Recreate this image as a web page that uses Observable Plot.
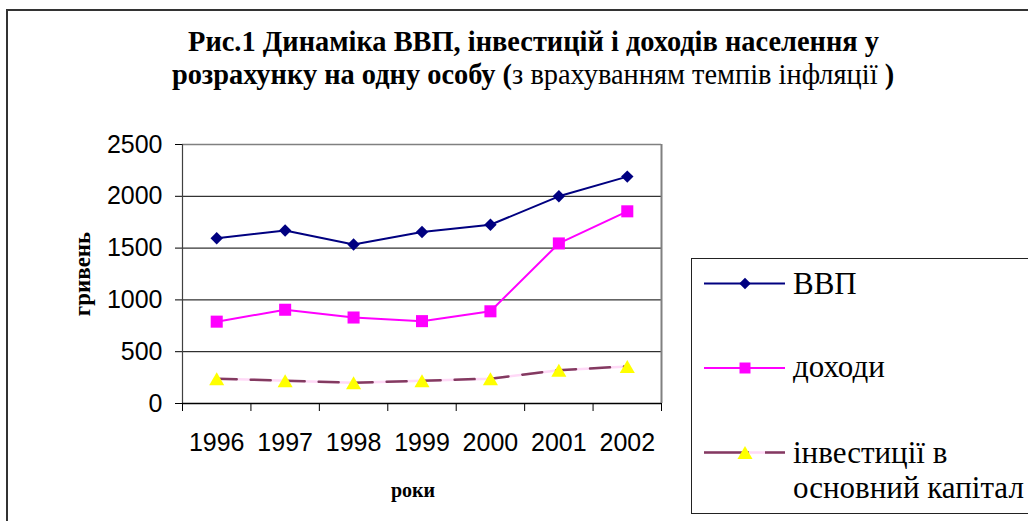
<!DOCTYPE html>
<html><head><meta charset="utf-8">
<script src="https://cdn.jsdelivr.net/npm/d3@7"></script>
<script src="https://cdn.jsdelivr.net/npm/@observablehq/plot@0.6"></script>
<style>
body{margin:0;background:#fff;}
#chart{position:relative;width:1028px;height:521px;overflow:hidden;background:#fff;}
#chart > *{position:absolute;}
.frame{left:6px;top:9px;width:1100px;height:600px;border:2px solid #333;box-sizing:border-box;}
.legend{left:691px;top:258px;width:400px;height:256px;border:1.5px solid #222;box-sizing:border-box;}
</style></head><body><div id="chart"></div>
<script>
const years = [1996, 1997, 1998, 1999, 2000, 2001, 2002];
const gdp = [1595, 1670, 1535, 1655, 1725, 2000, 2190];
const income = [790, 905, 830, 795, 890, 1545, 1855];
const invest = [240, 220, 200, 220, 240, 322, 358];
const yTicks = [0, 500, 1000, 1500, 2000, 2500];
const seriesNames = ["ВВП", "доходи", "інвестиції в", "основний капітал"];
const titleLine1 = "Рис.1 Динаміка ВВП, інвестицій і доходів населення у";
const titleLine2a = "розрахунку на одну особу (";
const titleLine2b = "з врахуванням темпів інфляції";
const titleLine2c = " )";
const yLabel = "гривень";
const xLabel = "роки";

const rows = years.map((year, i) => ({year, gdp: gdp[i], income: income[i], invest: invest[i]}));
const bounds = [...years.map(y => y - 0.5), years[years.length - 1] + 0.5];

const W = 1028, H = 521;
const SERIF = "Liberation Serif";
const chart = document.getElementById("chart");

const plot = Plot.plot({
  width: W, height: H,
  marginLeft: 182, marginRight: W - 661, marginTop: 144, marginBottom: H - 403,
  style: {background: "transparent", fontFamily: "Liberation Sans", overflow: "visible"},
  x: {type: "linear", domain: [bounds[0], bounds[bounds.length - 1]]},
  y: {domain: [0, 2500]},
  marks: [
    Plot.ruleY(yTicks.slice(1, -1), {stroke: "#000", strokeWidth: 1}),
    Plot.ruleY([yTicks[yTicks.length - 1]], {stroke: "#808080", strokeWidth: 1.5}),
    Plot.ruleX([bounds[bounds.length - 1]], {stroke: "#808080", strokeWidth: 2}),
    Plot.axisX({ticks: bounds, tickSize: 8, tickFormat: () => "", stroke: "#000", label: null}),
    Plot.axisX({ticks: years, tickSize: 0, tickPadding: 30, tickFormat: d => String(d), fontSize: 25, label: null}),
    Plot.axisY({ticks: yTicks, tickSize: 7, tickPadding: 13, tickFormat: d => String(d), fontSize: 25, stroke: "#000", label: null}),
    Plot.ruleX([bounds[0]], {stroke: "#404040", strokeWidth: 1.2}),
    Plot.ruleY([0], {stroke: "#000", strokeWidth: 1.5}),
    Plot.text([yLabel], {frameAnchor: "left", rotate: -90, dx: -100, textAnchor: "middle", lineAnchor: "middle", fontFamily: SERIF, fontWeight: "bold", fontSize: 23}),
    Plot.text([xLabel], {frameAnchor: "bottom", dx: -9, dy: 87, textAnchor: "middle", lineAnchor: "middle", fontFamily: SERIF, fontWeight: "bold", fontSize: 20}),
    Plot.line(rows, {x: "year", y: "gdp", stroke: "#000080", strokeWidth: 2}),
    Plot.dot(rows, {x: "year", y: "gdp", symbol: "diamond2", r: 5.6, fill: "#000080", stroke: "none"}),
    Plot.line(rows, {x: "year", y: "income", stroke: "#FF00FF", strokeWidth: 2}),
    Plot.dot(rows, {x: "year", y: "income", symbol: "square", r: 6.8, fill: "#FF00FF", stroke: "none"}),
    Plot.line(rows, {x: "year", y: "invest", stroke: "#FFD9F7", strokeWidth: 2.5}),
    Plot.line(rows, {x: "year", y: "invest", stroke: "#833A60", strokeWidth: 2.5, strokeDasharray: "20,14"}),
    Plot.dot(rows, {x: "year", y: "invest", symbol: "triangle", r: 5.6, dy: 2.2, fill: "#FFFF00", stroke: "none"})
  ]
});
chart.appendChild(plot);
plot.style.left = "0px"; plot.style.top = "0px";

const frame = document.createElement("div");
frame.className = "frame";
chart.appendChild(frame);

const legend = document.createElement("div");
legend.className = "legend";
chart.appendChild(legend);

const ov = d3.select(chart).append("svg")
  .attr("width", W).attr("height", H)
  .style("left", "0px").style("top", "0px")
  .attr("font-family", SERIF);

// title
ov.append("text").attr("x", 533.5).attr("y", 51).attr("text-anchor", "middle")
  .attr("font-size", 28.4).attr("font-weight", "bold").text(titleLine1);
const t2 = ov.append("text").attr("x", 533).attr("y", 84).attr("text-anchor", "middle").attr("font-size", 28.4);
t2.append("tspan").attr("font-weight", "bold").text(titleLine2a);
t2.append("tspan").attr("font-weight", "normal").text(titleLine2b);
t2.append("tspan").attr("font-weight", "bold").text(titleLine2c);

// legend swatches
const rowY = [283.5, 368, 452.5];
const swatches = [
  {stroke: "#000080", w: 2, fill: "#000080", sym: d3.symbolDiamond2, size: Math.PI * 5.2 * 5.2, dy: 0},
  {stroke: "#FF00FF", w: 2, fill: "#FF00FF", sym: d3.symbolSquare, size: Math.PI * 6.2 * 6.2, dy: 0},
  {stroke: "#833A60", w: 2.5, fill: "#FFFF00", sym: d3.symbolTriangle, size: Math.PI * 5.6 * 5.6, dy: 2.2, under: "#FFD9F7", dash: "45,16"}
];
swatches.forEach((s, i) => {
  const y = rowY[i];
  if (s.under) ov.append("line").attr("x1", 704).attr("x2", 785).attr("y1", y).attr("y2", y).attr("stroke", s.under).attr("stroke-width", s.w);
  ov.append("line").attr("x1", 704).attr("x2", 785).attr("y1", y).attr("y2", y)
    .attr("stroke", s.stroke).attr("stroke-width", s.w).attr("stroke-dasharray", s.dash || null);
  ov.append("path").attr("d", d3.symbol(s.sym, s.size)()).attr("fill", s.fill)
    .attr("transform", `translate(745,${y + s.dy})`);
});

const baselines = [294, 377, 463, 498];
seriesNames.forEach((name, i) => {
  ov.append("text").attr("x", 793).attr("y", baselines[i]).attr("font-size", 31).text(name);
});
</script>
</body></html>
